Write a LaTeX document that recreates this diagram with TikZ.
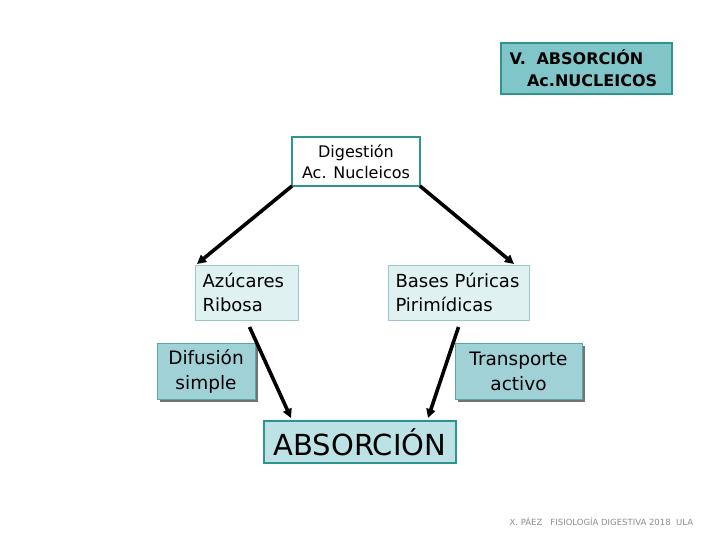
\documentclass[tikz,border=0pt]{standalone}
\usepackage{fontspec}
\setmainfont{DejaVu Sans}
\usetikzlibrary{calc,arrows.meta,shadows}
\definecolor{tealb}{HTML}{2E9490}
\definecolor{titlefill}{HTML}{80C5C8}
\definecolor{midfill}{HTML}{A0D1D7}
\definecolor{lightfill}{HTML}{E0F1F2}
\definecolor{lightborder}{HTML}{9CC7CA}
\definecolor{absfill}{HTML}{BDE2E5}
\begin{document}
\begin{tikzpicture}[x=1pt,y=-1pt,
  box/.style={draw, inner sep=0pt, outer sep=0pt, align=center},
  titlebox/.style={box, draw=tealb, line width=2pt, fill=titlefill},
  digbox/.style={box, draw=tealb, line width=2.5pt, fill=white},
  lightbox/.style={box, draw=lightborder, line width=0.8pt, fill=lightfill},
  midbox/.style={box, draw=tealb!80, line width=0.8pt, fill=midfill,
     drop shadow={shadow xshift=2.5pt, shadow yshift=-2.5pt, fill=black!55, opacity=1}},
  absbox/.style={box, draw=tealb, line width=2.5pt, fill=absfill},
  arr/.style={-{Triangle[length=9pt,width=9pt]}, line width=3.6pt, black}]
\useasboundingbox (0,0) rectangle (720,540);

\node[titlebox, minimum width=171, minimum height=51, font=\fontsize{16}{22}\selectfont\bfseries,
  text width=154, align=left]
  (title) at (586.5,68.5) {V.\ \ ABSORCIÓN\\\hspace{1.1em}Ac.NUCLEICOS};

\node[digbox, minimum width=128, minimum height=49, font=\fontsize{16}{21}\selectfont]
  (dig) at (356,161.5) {Digestión\\Ac. Nucleicos};

\node[lightbox, minimum width=103, minimum height=55, font=\fontsize{18}{24}\selectfont,
  text width=88, align=left] (azu) at (246.5,292.5) {Azúcares\\Ribosa};

\node[lightbox, minimum width=141, minimum height=55, font=\fontsize{18}{24}\selectfont,
  text width=126, align=left] (bas) at (458.5,292.5) {Bases Púricas\\Pirimídicas};

\node[midbox, minimum width=98, minimum height=56, font=\fontsize{18.5}{25}\selectfont]
  (dif) at (206,371.5) {Difusión\\simple};

\node[midbox, minimum width=127, minimum height=56, font=\fontsize{18.5}{25}\selectfont]
  (tra) at (518.5,371) {Transporte\\activo};

\node[absbox, minimum width=192, minimum height=42, font=\fontsize{29}{32}\selectfont]
  (abs) at (360,442) {ABSORCIÓN};

\coordinate (a1) at ($(bas.north east)+(-15,-1)$);
\coordinate (s1) at ($(azu.south)+(3,7)$);
\coordinate (e1) at ($(abs.north west)+(27,-3)$);
\coordinate (s2) at ($(bas.south)+(0,7)$);
\coordinate (e2) at ($(abs.north east)+(-28,-3)$);

\draw[arr] (dig.south west) -- ($(azu.north west)+(2,-1)$);
\draw[arr] (dig.south east) -- (a1);
\draw[arr] (s1) -- (e1);
\draw[arr] (s2) -- (e2);

\node[font=\fontsize{8.5}{10}\selectfont, text=black!45, anchor=west] (foot) at (506,522)
  {X. PÁEZ \ \ FISIOLOGÍA DIGESTIVA 2018 \ ULA};
\end{tikzpicture}
\end{document}
